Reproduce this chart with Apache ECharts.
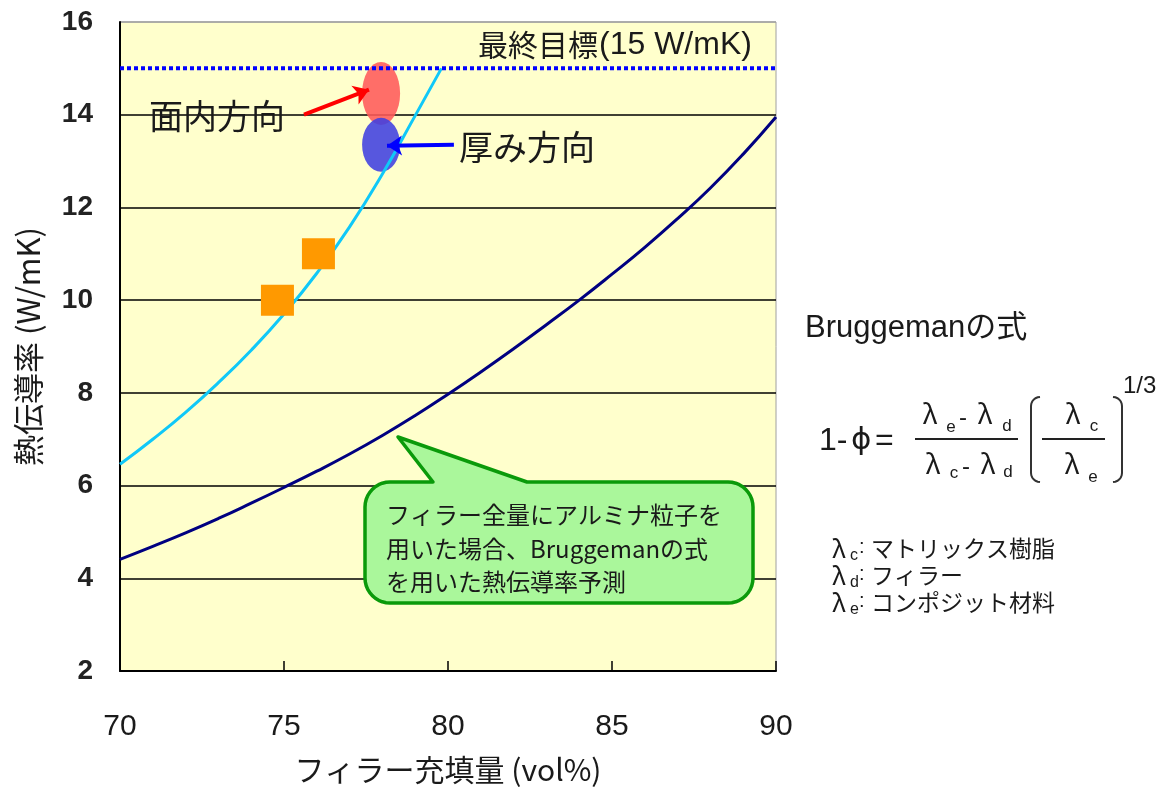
<!DOCTYPE html>
<html>
<head>
<meta charset="utf-8">
<script src="https://cdn.jsdelivr.net/npm/echarts@6/dist/echarts.min.js"></script>
<style>
html,body{margin:0;padding:0;background:#fff;}
#chart{width:1167px;height:790px;}
</style>
</head>
<body>
<div id="chart"></div>
<script>
// ---------------- data ----------------
const xTicks = [70, 75, 80, 85, 90];
const yTicks = [2, 4, 6, 8, 10, 12, 14, 16];
// prediction curve matched to samples (light blue)
const fitX = [70, 71, 72, 73, 74, 75, 76, 77, 78, 79, 79.8];
const fitY = [6.46, 7.0, 7.58, 8.22, 8.92, 9.7, 10.58, 11.58, 12.72, 13.98, 15.0];
// Bruggeman prediction (navy)
const brugX = [70, 71, 72, 73, 74, 75, 76, 77, 78, 79, 80, 81, 82, 83, 84, 85, 86, 87, 88, 89, 90];
const brugY = [4.41, 4.69, 4.98, 5.29, 5.62, 5.96, 6.31, 6.68, 7.08, 7.51, 7.97, 8.45, 8.95, 9.47, 10.0, 10.56, 11.14, 11.76, 12.42, 13.15, 13.95];
// measured samples (orange squares)
const sampleX = [74.8, 76.05];
const sampleY = [10.0, 11.0];
// target
const targetValue = 15;
// result ellipses
const inPlane = [77.96, 14.46];
const throughThickness = [77.96, 13.35];
// annotation arrows (data coords)
const arrowInPlane = [[75.61, 14.0], [77.59, 14.54]];
const arrowThick = [[80.18, 13.35], [78.14, 13.33]];

// texts
const xName = 'フィラー充填量 (vol%)';
const yName = '熱伝導率 (W/mK)';
const targetLabelJp = '最終目標';
const targetLabelVal = '(15 W/mK)';
const inPlaneLabel = '面内方向';
const thickLabel = '厚み方向';
const calloutLines = ['フィラー全量にアルミナ粒子を', '用いた場合、Bruggemanの式', 'を用いた熱伝導率予測'];
const formulaTitle = 'Bruggemanの式';
const legendItems = [['c', 'マトリックス樹脂'], ['d', 'フィラー'], ['e', 'コンポジット材料']];

// ---------------- style ----------------
const LAT = '"Liberation Sans", Arial, "Noto Sans CJK JP", sans-serif';
const JP = '"Noto Sans CJK JP", "Liberation Sans", sans-serif';
const GR = '"DejaVu Sans", sans-serif';
const LAMF = '"Noto Sans CJK JP", "DejaVu Sans", sans-serif';
const TXT = '#1a1a1a';

function txt(x, y, text, size, opts) {
  opts = opts || {};
  return {
    type: 'text', x: x, y: y, z: 200,
    style: {
      text: text,
      fontSize: size,
      fontFamily: opts.family || JP,
      fontWeight: opts.weight || 'normal',
      fill: opts.color || TXT,
      align: opts.align || 'left',
      verticalAlign: 'middle',
      textAlign: opts.align || 'left',
      textVerticalAlign: 'middle'
    }
  };
}
function arc(cx, cy, r, a0, a1, n) {
  const pts = [];
  for (let i = 0; i <= n; i++) {
    const a = a0 + (a1 - a0) * i / n;
    pts.push([cx + r * Math.cos(a), cy + r * Math.sin(a)]);
  }
  return pts;
}
const PI = Math.PI;

const graphics = [];
graphics.push(txt(598, 45, targetLabelJp, 30, {align: 'right'}));
graphics.push(txt(599, 45, targetLabelVal, 32, {family: LAT}));
graphics.push(txt(149, 116, inPlaneLabel, 34));
graphics.push(txt(459, 147, thickLabel, 34));

// callout bubble
(function () {
  const L = 365, R = 753, T = 482, B = 603, r = 25;
  let pts = [];
  pts = pts.concat(arc(L + r, T + r, r, PI, 1.5 * PI, 10));
  pts.push([433, T], [398, 437], [527, T]);
  pts = pts.concat(arc(R - r, T + r, r, 1.5 * PI, 2 * PI, 10));
  pts = pts.concat(arc(R - r, B - r, r, 0, 0.5 * PI, 10));
  pts = pts.concat(arc(L + r, B - r, r, 0.5 * PI, PI, 10));
  graphics.push({
    type: 'polygon', z: 150,
    shape: {points: pts},
    style: {fill: '#AAF79B', stroke: '#0A9A0A', lineWidth: 3.5, lineJoin: 'round'}
  });
})();
calloutLines.forEach(function (s, i) {
  graphics.push(txt(386, 515 + i * 33.5, s, 24));
});

// formula block
graphics.push(txt(805, 328, formulaTitle, 31, {family: LAT}));
graphics.push(txt(819, 441, '1-', 32, {family: LAT}));
graphics.push(txt(851, 441, 'ϕ', 31, {family: GR}));
graphics.push(txt(875, 441, '=', 32, {family: LAT}));
const lam = function (x, y) { return txt(x, y, 'λ', 27, {family: LAMF, align: 'center'}); };
const sub = function (x, y, s) { return txt(x, y, s, 17, {family: LAT, align: 'center'}); };
graphics.push(lam(930, 414)); graphics.push(sub(951, 427, 'e'));
graphics.push(txt(963, 418, '-', 24, {family: LAT, align: 'center'}));
graphics.push(lam(985, 414)); graphics.push(sub(1007, 426, 'd'));
graphics.push({type: 'line', z: 200, shape: {x1: 915, y1: 439, x2: 1018, y2: 439}, style: {stroke: '#222', lineWidth: 2}});
graphics.push(lam(933, 464)); graphics.push(sub(954, 473, 'c'));
graphics.push(txt(966, 467, '-', 24, {family: LAT, align: 'center'}));
graphics.push(lam(988, 464)); graphics.push(sub(1008, 472, 'd'));
(function () {
  const r = 9;
  const lb = [[1040, 397]].concat(arc(1031 + r, 397 + r, r, 1.5 * PI, PI, 6).slice(1)).concat(arc(1031 + r, 482 - r, r, PI, 0.5 * PI, 6));
  const rb = [[1113, 397]].concat(arc(1122 - r, 397 + r, r, 1.5 * PI, 2 * PI, 6).slice(1)).concat(arc(1122 - r, 482 - r, r, 0, 0.5 * PI, 6));
  graphics.push({type: 'polyline', z: 200, shape: {points: lb}, style: {stroke: '#333', lineWidth: 2, fill: null}});
  graphics.push({type: 'polyline', z: 200, shape: {points: rb}, style: {stroke: '#333', lineWidth: 2, fill: null}});
})();
graphics.push(lam(1073, 414)); graphics.push(sub(1094, 426, 'c'));
graphics.push({type: 'line', z: 200, shape: {x1: 1042, y1: 439, x2: 1105, y2: 439}, style: {stroke: '#222', lineWidth: 2}});
graphics.push(lam(1072, 464)); graphics.push(sub(1093, 477, 'e'));
graphics.push(txt(1123, 386, '1/3', 24, {family: LAT}));

// legend
legendItems.forEach(function (it, i) {
  const y = 548 + i * 27;
  graphics.push(txt(839, y, 'λ', 25, {family: LAMF, align: 'center'}));
  graphics.push(txt(850, y + 8, it[0], 16, {family: LAT}));
  graphics.push(txt(859, y - 1, ':', 20, {family: LAT}));
  graphics.push(txt(871, y, it[1], 23));
});

const chart = echarts.init(document.getElementById('chart'), null, {renderer: 'canvas'});
chart.setOption({
  animation: false,
  backgroundColor: '#ffffff',
  grid: {
    left: 120, top: 22, width: 656, height: 651,
    show: true, backgroundColor: '#FFFFCC', borderColor: '#a0a0a0', borderWidth: 1
  },
  xAxis: {
    type: 'value', min: xTicks[0], max: xTicks[xTicks.length - 1], interval: 5,
    name: xName, nameLocation: 'middle', nameGap: 84,
    nameTextStyle: {fontSize: 30, fontFamily: JP, color: TXT},
    axisLine: {show: true, lineStyle: {color: '#000', width: 2}},
    axisTick: {show: true, inside: true, length: 10, lineStyle: {color: '#000', width: 1.5}},
    axisLabel: {margin: 41, fontSize: 30, fontFamily: LAT, color: TXT},
    splitLine: {show: false}
  },
  yAxis: {
    type: 'value', min: yTicks[0], max: yTicks[yTicks.length - 1], interval: 2,
    name: yName, nameLocation: 'middle', nameGap: 76, nameRotate: 90,
    nameTextStyle: {fontSize: 31, fontFamily: JP, color: TXT},
    axisLine: {show: true, lineStyle: {color: '#000', width: 2}},
    axisTick: {show: false},
    axisLabel: {margin: 27, fontSize: 28, fontFamily: LAT, fontWeight: 'bold', color: '#222'},
    splitLine: {show: true, lineStyle: {color: ['#000', '#000', '#000', '#000', '#000', '#000', '#000', '#a0a0a0'], width: 1.5}}
  },
  series: [
    {
      type: 'scatter', name: 'ellipseRed', z: 3, symbol: 'circle', symbolSize: [38, 63],
      itemStyle: {color: '#FF5A5A', opacity: 0.88},
      data: [inPlane]
    },
    {
      type: 'scatter', name: 'ellipseBlue', z: 3, symbol: 'circle', symbolSize: [38, 54],
      itemStyle: {color: '#4040E0', opacity: 0.88},
      data: [throughThickness]
    },
    {
      type: 'line', name: 'fit', z: 4, smooth: true, showSymbol: false, symbol: 'none',
      lineStyle: {color: '#10C8F8', width: 3},
      data: fitX.map(function (x, i) { return [x, fitY[i]]; })
    },
    {
      type: 'line', name: 'bruggeman', z: 4, smooth: true, showSymbol: false, symbol: 'none',
      lineStyle: {color: '#000080', width: 3},
      data: brugX.map(function (x, i) { return [x, brugY[i]]; })
    },
    {
      type: 'scatter', name: 'samples', z: 5, symbol: 'rect', symbolSize: [33, 31],
      itemStyle: {color: '#FF9900', opacity: 1},
      data: sampleX.map(function (x, i) { return [x, sampleY[i]]; })
    },
    {
      type: 'line', name: 'target', z: 6, showSymbol: false, symbol: 'none',
      lineStyle: {color: '#0000FF', width: 4, type: [4, 3]},
      data: [[xTicks[0], targetValue], [xTicks[xTicks.length - 1], targetValue]]
    },
    {
      type: 'lines', name: 'arrows', coordinateSystem: 'cartesian2d', z: 7,
      symbol: ['none', 'arrow'], symbolSize: 15,
      data: [
        {coords: arrowInPlane, lineStyle: {color: '#FF0000', width: 4, opacity: 1}},
        {coords: arrowThick, lineStyle: {color: '#0000FF', width: 4, opacity: 1}}
      ]
    }
  ],
  graphic: {elements: graphics}
});
</script>
</body>
</html>
